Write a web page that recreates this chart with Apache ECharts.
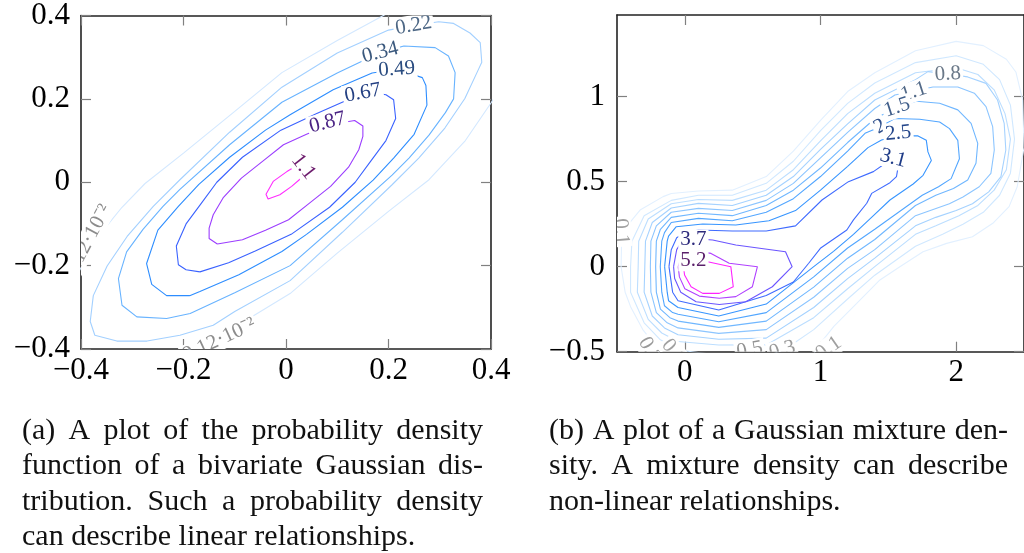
<!DOCTYPE html>
<html>
<head>
<meta charset="utf-8">
<script src="https://cdn.jsdelivr.net/npm/echarts@6/dist/echarts.min.js"></script>
<style>
html, body { margin: 0; padding: 0; background: #fff; }
#chart { width: 1024px; height: 553px; }
</style>
</head>
<body>
<div id="chart"></div>
<script>
var FONT = '"Liberation Serif", "Times New Roman", serif';

// ---------- (a) bivariate Gaussian, contour lines ----------
var gaussTicks = [-0.4, -0.2, 0, 0.2, 0.4];

// outermost level only shows as two arcs
var g0912upper = [[-0.44,-0.30],[-0.40,-0.205],[-0.363,-0.125],[-0.32,-0.06],[-0.275,-0.003],[-0.20,0.07],[-0.10,0.17],[-0.008,0.263],[0.10,0.34],[0.19,0.40],[0.25,0.44]];
var g0912lower = [[-0.30,-0.46],[-0.13,-0.37],[0.008,-0.267],[0.10,-0.17],[0.20,-0.07],[0.279,0.006],[0.35,0.10],[0.40,0.19],[0.44,0.27]];
var g022 = [[-0.271,-0.381],[-0.330,-0.381],[-0.373,-0.367],[-0.382,-0.334],[-0.376,-0.272],[-0.349,-0.201],[-0.310,-0.130],[-0.259,-0.058],[-0.207,0.006],[-0.110,0.120],[-0.008,0.228],[0.100,0.310],[0.200,0.365],[0.249,0.376],[0.298,0.385],[0.327,0.381],[0.359,0.358],[0.379,0.335],[0.382,0.288],[0.376,0.272],[0.349,0.201],[0.310,0.130],[0.259,0.058],[0.207,-0.006],[0.110,-0.120],[0.008,-0.236],[-0.100,-0.310],[-0.142,-0.343],[-0.207,-0.367],[-0.271,-0.381]];
var g034 = [[-0.233,-0.327],[-0.291,-0.323],[-0.320,-0.295],[-0.327,-0.231],[-0.311,-0.167],[-0.279,-0.113],[-0.240,-0.058],[-0.207,-0.017],[-0.110,0.090],[-0.008,0.192],[0.100,0.262],[0.184,0.311],[0.230,0.327],[0.291,0.323],[0.317,0.303],[0.330,0.263],[0.327,0.200],[0.311,0.167],[0.279,0.113],[0.240,0.058],[0.207,0.017],[0.110,-0.090],[0.008,-0.200],[-0.100,-0.265],[-0.187,-0.315],[-0.233,-0.327]];
var g049 = [[-0.188,-0.272],[-0.233,-0.272],[-0.262,-0.245],[-0.272,-0.195],[-0.250,-0.115],[-0.210,-0.058],[-0.170,-0.005],[-0.110,0.060],[-0.040,0.125],[0.008,0.162],[0.092,0.222],[0.168,0.262],[0.216,0.271],[0.266,0.251],[0.273,0.232],[0.275,0.185],[0.250,0.115],[0.210,0.058],[0.170,0.005],[0.110,-0.060],[0.040,-0.125],[-0.008,-0.166],[-0.092,-0.222],[-0.168,-0.262],[-0.188,-0.272]];
var g067 = [[-0.168,-0.215],[-0.195,-0.210],[-0.210,-0.198],[-0.214,-0.153],[-0.195,-0.100],[-0.165,-0.050],[-0.135,0.0],[-0.085,0.060],[-0.010,0.125],[0.060,0.165],[0.112,0.193],[0.168,0.215],[0.195,0.210],[0.210,0.198],[0.214,0.153],[0.195,0.100],[0.165,0.050],[0.135,0.0],[0.085,-0.060],[0.010,-0.125],[-0.060,-0.165],[-0.112,-0.193],[-0.168,-0.215]];
var g087 = [[-0.134,-0.148],[-0.150,-0.135],[-0.150,-0.110],[-0.142,-0.078],[-0.122,-0.036],[-0.087,0.010],[-0.044,0.052],[-0.005,0.090],[0.040,0.115],[0.085,0.138],[0.134,0.148],[0.150,0.135],[0.150,0.110],[0.142,0.078],[0.122,0.036],[0.087,-0.010],[0.044,-0.052],[0.005,-0.090],[-0.040,-0.115],[-0.085,-0.138],[-0.134,-0.148]];
var g110 = [[0.001,0.025],[-0.025,0.002],[-0.039,-0.029],[-0.035,-0.040],[-0.012,-0.030],[0.011,-0.010],[0.026,0.006],[0.037,0.029],[0.031,0.040],[0.014,0.035],[0.001,0.025]];

var gaussLabelText = ['9.12\u00b710\u207b\u00b2', '9.12\u00b710\u207b\u00b2', '0.22', '0.34', '0.49', '0.67', '0.87', '1.1'];

// ---------- (b) Gaussian mixture, contour lines ----------
var mixXTicks = [0, 1, 2];
var mixYTicks = [-0.5, 0, 0.5, 1];

var m01 = [[-0.47,0],[-0.466,0.15],[-0.43,0.235],[-0.33,0.333],[-0.16,0.412],[-0.1,0.43],[0.1,0.445],[0.35,0.45],[0.6,0.53],[0.8,0.68],[1.0,0.86],[1.2,1.03],[1.4,1.14],[1.7,1.27],[2.0,1.325],[2.2,1.30],[2.37,1.22],[2.44,1.145],[2.49,0.98],[2.50,0.70],[2.45,0.47],[2.39,0.353],[2.27,0.255],[2.12,0.176],[1.93,0.137],[1.756,0.088],[1.585,0.0],[1.438,-0.078],[1.267,-0.216],[1.10,-0.35],[1.0,-0.45],[0.92,-0.55],[0.6,-0.64],[0.25,-0.66],[-0.15,-0.6],[-0.2,-0.48],[-0.31,-0.37],[-0.40,-0.235],[-0.44,-0.15],[-0.47,0]];
var m03 = [[-0.40,0],[-0.39,0.15],[-0.30,0.30],[-0.1,0.39],[0.1,0.42],[0.35,0.42],[0.6,0.49],[0.8,0.62],[1.0,0.80],[1.2,0.96],[1.4,1.08],[1.7,1.20],[2.0,1.24],[2.2,1.19],[2.32,1.10],[2.40,0.95],[2.43,0.75],[2.40,0.55],[2.32,0.42],[2.20,0.32],[2.05,0.25],[1.9,0.19],[1.7,0.12],[1.4,-0.05],[1.2,-0.19],[0.95,-0.37],[0.75,-0.48],[0.6,-0.53],[0.25,-0.52],[-0.05,-0.49],[-0.18,-0.43],[-0.30,-0.33],[-0.40,-0.15],[-0.40,0]];
var m05 = [[-0.344,0],[-0.34,0.15],[-0.27,0.28],[-0.1,0.37],[0.1,0.395],[0.35,0.39],[0.6,0.45],[0.8,0.57],[1.0,0.74],[1.2,0.90],[1.4,1.02],[1.7,1.14],[2.0,1.17],[2.16,1.13],[2.28,1.04],[2.36,0.90],[2.40,0.75],[2.37,0.57],[2.28,0.45],[2.16,0.36],[2.02,0.30],[1.85,0.24],[1.7,0.19],[1.4,0.0],[1.2,-0.13],[0.95,-0.30],[0.6,-0.46],[0.25,-0.461],[-0.05,-0.44],[-0.17,-0.39],[-0.27,-0.31],[-0.35,-0.15],[-0.344,0]];
var m08 = [[-0.295,0],[-0.29,0.15],[-0.24,0.26],[-0.1,0.345],[0.1,0.372],[0.35,0.36],[0.6,0.42],[0.8,0.53],[1.0,0.69],[1.2,0.84],[1.4,0.98],[1.7,1.10],[1.792,1.147],[1.939,1.133],[2.085,1.116],[2.22,1.078],[2.305,0.98],[2.354,0.843],[2.366,0.686],[2.33,0.529],[2.24,0.44],[2.12,0.37],[2.0,0.33],[1.85,0.29],[1.7,0.24],[1.4,0.05],[1.2,-0.07],[0.95,-0.24],[0.6,-0.42],[0.25,-0.427],[-0.05,-0.40],[-0.15,-0.36],[-0.24,-0.29],[-0.30,-0.15],[-0.295,0]];
var m11 = [[-0.254,0],[-0.25,0.15],[-0.21,0.24],[-0.1,0.32],[0.1,0.343],[0.35,0.33],[0.6,0.39],[0.8,0.49],[1.0,0.64],[1.2,0.79],[1.4,0.93],[1.548,1.01],[1.687,1.033],[1.829,1.057],[2.012,1.057],[2.134,1.02],[2.22,0.941],[2.269,0.824],[2.281,0.686],[2.256,0.549],[2.17,0.47],[2.05,0.41],[1.95,0.37],[1.7,0.30],[1.4,0.10],[1.2,-0.01],[0.95,-0.18],[0.6,-0.37],[0.25,-0.392],[-0.05,-0.36],[-0.13,-0.33],[-0.21,-0.27],[-0.25,-0.15],[-0.254,0]];
var m15 = [[-0.215,0],[-0.21,0.15],[-0.18,0.22],[-0.1,0.29],[0.1,0.314],[0.35,0.30],[0.6,0.36],[0.8,0.45],[1.0,0.58],[1.2,0.73],[1.4,0.87],[1.565,0.937],[1.707,0.973],[1.878,0.961],[2.012,0.922],[2.11,0.843],[2.159,0.725],[2.146,0.608],[2.085,0.51],[1.98,0.46],[1.85,0.42],[1.7,0.36],[1.4,0.16],[1.2,0.05],[0.95,-0.12],[0.6,-0.32],[0.25,-0.357],[-0.05,-0.32],[-0.11,-0.30],[-0.18,-0.25],[-0.21,-0.15],[-0.215,0]];
var m20 = [[-0.181,0],[-0.17,0.15],[-0.15,0.20],[-0.1,0.26],[0.1,0.284],[0.35,0.27],[0.6,0.32],[0.8,0.40],[1.0,0.53],[1.2,0.68],[1.328,0.784],[1.438,0.822],[1.548,0.871],[1.731,0.867],[1.878,0.851],[1.951,0.812],[2.012,0.743],[2.024,0.635],[1.963,0.518],[1.87,0.47],[1.75,0.42],[1.4,0.22],[1.2,0.11],[0.95,-0.06],[0.6,-0.27],[0.25,-0.324],[-0.05,-0.28],[-0.09,-0.27],[-0.15,-0.23],[-0.17,-0.15],[-0.181,0]];
var m25 = [[-0.149,0],[-0.13,0.15],[-0.12,0.18],[-0.063,0.235],[0.132,0.251],[0.376,0.245],[0.62,0.27],[0.816,0.33],[1.0,0.45],[1.2,0.59],[1.35,0.70],[1.45,0.745],[1.573,0.77],[1.719,0.769],[1.780,0.743],[1.792,0.675],[1.817,0.625],[1.756,0.537],[1.683,0.486],[1.512,0.392],[1.390,0.30],[1.243,0.19],[1.096,0.09],[0.95,0.0],[0.6,-0.22],[0.25,-0.29],[-0.05,-0.24],[-0.12,-0.20],[-0.13,-0.15],[-0.149,0]];
var m31 = [[-0.117,0],[-0.10,0.10],[-0.06,0.17],[0.0,0.20],[0.1,0.216],[0.35,0.21],[0.6,0.21],[0.816,0.24],[1.011,0.392],[1.206,0.50],[1.39,0.559],[1.50,0.62],[1.575,0.60],[1.56,0.53],[1.512,0.494],[1.377,0.431],[1.341,0.373],[1.243,0.275],[1.194,0.216],[0.999,0.108],[0.913,0.02],[0.80,-0.09],[0.6,-0.17],[0.25,-0.255],[-0.05,-0.20],[-0.09,-0.15],[-0.117,0]];
var m37 = [[-0.083,0],[-0.06,0.10],[-0.02,0.15],[0.063,0.165],[0.205,0.157],[0.376,0.127],[0.742,0.088],[0.791,0.0],[0.645,-0.118],[0.449,-0.206],[0.254,-0.222],[0.083,-0.206],[-0.03,-0.15],[-0.075,-0.07],[-0.083,0]];
var m44 = [[-0.049,0],[-0.03,0.05],[0.03,0.08],[0.1,0.09],[0.193,0.078],[0.327,0.020],[0.535,0.0],[0.498,-0.118],[0.376,-0.176],[0.254,-0.186],[0.107,-0.173],[0.0,-0.13],[-0.04,-0.06],[-0.049,0]];
var m52 = [[-0.010,0],[0.02,0.04],[0.06,0.05],[0.12,0.045],[0.168,0.029],[0.339,0.0],[0.357,-0.118],[0.254,-0.157],[0.132,-0.157],[0.046,-0.118],[-0.002,-0.049],[-0.010,0]];

var mixLabelText = ['0.8', '1.1', '1.5', '2', '2.5', '3.1', '5.2', '3.7', '0.1', '0.5', '0.3', '0.1', '0.3', '0.1'];

// ---------- captions ----------
var captionA = ['(a) A plot of the probability density', 'function of a bivariate Gaussian dis-', 'tribution. Such a probability density', 'can describe linear relationships.'];
var captionB = ['(b) A plot of a Gaussian mixture den-', 'sity. A mixture density can describe', 'non-linear relationships.'];

// ---------- styling / placement ----------
var gaussLines = [
    [g0912upper, '#d3e8ff'], [g0912lower, '#d3e8ff'], [g022, '#a3d0ff'], [g034, '#68b3ff'],
    [g049, '#2d8dff'], [g067, '#3a62ff'], [g087, '#9b3dff'], [g110, '#ff2cff']
];
var gaussLabelAt = [[-0.386,-0.14],[-0.13,-0.378],[0.249,0.376],[0.184,0.311],[0.216,0.271],[0.150,0.214],[0.081,0.143],[0.034,0.037]];
var gaussLabelTilt = [62, 25, 10, 14, 4, 10, 14, -52];
var gaussLabelInk = ['#8c8c8c', '#8c8c8c', '#4d6785', '#3a587d', '#2a4c80', '#233f82', '#4a2384', '#6d1c6d'];

var mixLines = [
    [m01, '#e2f0ff'], [m03, '#d0e8ff'], [m05, '#bcdeff'], [m08, '#a5d2ff'], [m11, '#8cc5ff'],
    [m15, '#70b7ff'], [m20, '#52a6ff'], [m25, '#3795ff'], [m31, '#3f6bff'], [m37, '#6b55ff'],
    [m44, '#b040ff'], [m52, '#ff22ff']
];
var mixLabelAt = [[1.939,1.133],[1.687,1.029],[1.565,0.937],[1.438,0.824],[1.573,0.784],[1.536,0.637],[0.063,0.035],[0.063,0.157],[-0.47,0.206],[0.479,-0.49],[0.718,-0.49],[1.06,-0.48],[-0.26,-0.49],[-0.083,-0.50]];
var mixLabelTilt = [3, 18, 18, 30, 5, -15, 0, 0, -85, 10, 15, 35, -60, -50];
var mixLabelInk = ['#6a7888', '#536a88', '#405e8a', '#2e4e8a', '#24468a', '#1d3a86', '#5a1f6a', '#2d2a7c', '#a0a0a0', '#929292', '#999999', '#a0a0a0', '#999999', '#a0a0a0'];

var axisLineStyle = { color: '#222', width: 1.6 };
var tickStyle = { color: '#808080', width: 1.2 };

function minusFmt(v) {
    return String(Math.round(v * 100) / 100).replace('-', '\u2212');
}

function xAxis(grid, pos, min, max, interval, ticks, labels) {
    return {
        gridIndex: grid, type: 'value', position: pos, min: min, max: max, interval: interval,
        axisLine: { show: true, onZero: false, lineStyle: axisLineStyle },
        axisTick: { show: true, inside: true, length: 10, lineStyle: tickStyle, customValues: ticks },
        axisLabel: { show: labels, margin: 6, fontFamily: FONT, fontSize: 31, color: '#000', formatter: minusFmt, customValues: ticks },
        splitLine: { show: false }
    };
}
function yAxis(grid, pos, min, max, interval, ticks, labels, margin) {
    return {
        gridIndex: grid, type: 'value', position: pos, min: min, max: max, interval: interval,
        axisLine: { show: true, onZero: false, lineStyle: axisLineStyle },
        axisTick: { show: true, inside: true, length: 10, lineStyle: tickStyle, customValues: ticks },
        axisLabel: { show: labels, margin: margin, fontFamily: FONT, fontSize: 31, color: '#000', formatter: minusFmt, customValues: ticks },
        splitLine: { show: false }
    };
}

function lineSeries(axis, pts, color) {
    return {
        type: 'line', xAxisIndex: axis, yAxisIndex: axis, data: pts,
        symbol: 'none', showSymbol: false, clip: true, silent: true, z: 2,
        lineStyle: { color: color, width: 1.1 }
    };
}

function labelSeries(axis, texts, at, tilt, ink) {
    return {
        type: 'custom', xAxisIndex: axis, yAxisIndex: axis, clip: true, silent: true, z: 5,
        data: at.map(function (p, i) { return [p[0], p[1], i]; }),
        renderItem: function (params, api) {
            var i = api.value(2);
            var c = api.coord([api.value(0), api.value(1)]);
            return {
                type: 'text', x: c[0], y: c[1], rotation: tilt[i] * Math.PI / 180,
                style: {
                    text: texts[i], fill: ink[i], font: '21px ' + FONT,
                    align: 'center', verticalAlign: 'middle',
                    backgroundColor: '#fff', padding: [0, 2]
                }
            };
        }
    };
}

// justified caption lines, word by word
var CAPTION_FONT = '30px ' + FONT;
function caption(lines, left, right, top0, lineH) {
    var ctx = document.createElement('canvas').getContext('2d');
    ctx.font = CAPTION_FONT;
    var out = [];
    lines.forEach(function (line, li) {
        var words = line.split(' ');
        var widths = words.map(function (w) { return ctx.measureText(w).width; });
        var total = widths.reduce(function (a, b) { return a + b; }, 0);
        var last = li === lines.length - 1;
        var gap = (last || words.length < 2) ? ctx.measureText(' ').width : (right - left - total) / (words.length - 1);
        var x = left;
        words.forEach(function (w, k) {
            out.push({
                type: 'text', x: x, y: top0 + li * lineH, silent: true,
                style: { text: w, font: CAPTION_FONT, fill: '#111', verticalAlign: 'middle', textVerticalAlign: 'middle' }
            });
            x += widths[k] + gap;
        });
    });
    return out;
}

var series = [];
gaussLines.forEach(function (l) { series.push(lineSeries(0, l[0], l[1])); });
mixLines.forEach(function (l) { series.push(lineSeries(2, l[0], l[1])); });
series.push(labelSeries(0, gaussLabelText, gaussLabelAt, gaussLabelTilt, gaussLabelInk));
series.push(labelSeries(2, mixLabelText, mixLabelAt, mixLabelTilt, mixLabelInk));

var myChart = echarts.init(document.getElementById('chart'), null, { renderer: 'canvas' });
var option = {
    animation: false,
    backgroundColor: '#fff',
    grid: [
        { left: 81, top: 12.7, width: 410, height: 336.3 },
        { left: 617, top: 15, width: 409.5, height: 336.7 }
    ],
    xAxis: [
        xAxis(0, 'bottom', -0.4, 0.4, 0.2, gaussTicks, true),
        xAxis(0, 'top', -0.4, 0.4, 0.2, gaussTicks, false),
        xAxis(1, 'bottom', -0.5, 2.5, 0.5, mixXTicks, true),
        xAxis(1, 'top', -0.5, 2.5, 0.5, mixXTicks, false)
    ],
    yAxis: [
        yAxis(0, 'left', -0.4, 0.4, 0.2, gaussTicks, true, 11),
        yAxis(0, 'right', -0.4, 0.4, 0.2, gaussTicks, false, 11),
        yAxis(1, 'left', -0.5, 1.48, 0.5, mixYTicks, true, 12),
        yAxis(1, 'right', -0.5, 1.48, 0.5, mixYTicks, false, 12)
    ],
    graphic: caption(captionA, 22, 483, 431, 35.4).concat(caption(captionB, 549, 1008, 431, 35.4)),
    series: series
};
myChart.setOption(option);
</script>
</body>
</html>
